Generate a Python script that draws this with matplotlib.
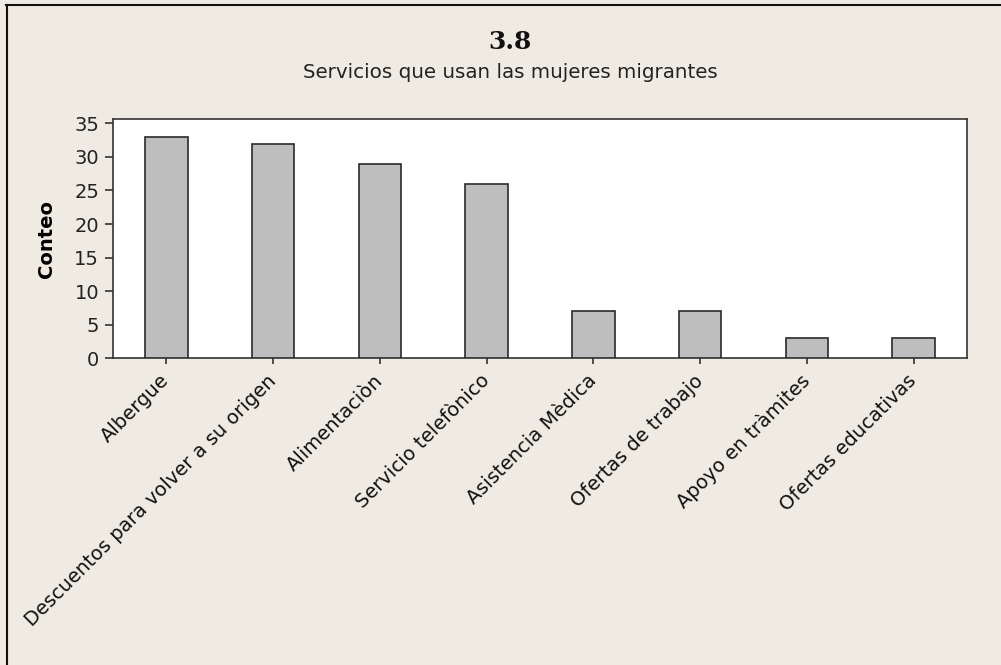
import matplotlib
matplotlib.use("Agg")
import matplotlib.pyplot as plt
from matplotlib.lines import Line2D

categories = ["Albergue", "Descuentos para volver a su origen", "Alimentaciòn",
              "Servicio telefònico", "Asistencia Mèdica", "Ofertas de trabajo",
              "Apoyo en tràmites", "Ofertas educativas"]
counts = [33, 32, 29, 26, 7, 7, 3, 3]
yticks = [0, 5, 10, 15, 20, 25, 30, 35]
title_num = "3.8"
title_text = "Servicios que usan las mujeres migrantes"
ylabel = "Conteo"

bg = "#EFEBE2"
fig = plt.figure(figsize=(10.01, 6.65), dpi=100, facecolor=bg)
ax = fig.add_axes([113/1001, 1-358.3/665, (967-113)/1001, (358.3-119)/665])
ax.set_facecolor("white")

x = list(range(len(categories)))
ax.bar(x, counts, width=0.4, color="#BEBEBE", edgecolor="#2a2a2a", linewidth=1.2, zorder=3)
ax.set_xlim(-0.5, len(categories) - 0.5)
ax.set_ylim(0, 35.65)
ax.set_yticks(yticks)
ax.set_yticklabels([str(v) for v in yticks], fontsize=14, color="#222222")
ax.set_xticks(x)
ax.set_xticklabels(categories, rotation=45, ha="right", va="center", rotation_mode="anchor",
                   fontsize=14, color="#111111")
ax.tick_params(axis="y", direction="out", length=6, width=1.2, pad=4, color="#333333")
ax.tick_params(axis="x", direction="out", length=4, width=1.2, pad=10, color="#333333")
for s in ax.spines.values():
    s.set_linewidth(1.2)
    s.set_color("#333333")
ax.set_ylabel(ylabel, fontsize=14, fontweight="bold", labelpad=13)

fig.text(510/1001, 1-42/665, title_num, ha="center", va="center", fontsize=18,
         fontweight="bold", family="DejaVu Serif", color="#111111")
fig.text(510/1001, 1-73/665, title_text, ha="center", va="center", fontsize=14.3,
         color="#222222")

# outer frame lines (top and left)
fig.add_artist(Line2D([6/1001, 1.0], [1-5/665, 1-5/665], transform=fig.transFigure,
                      color="#111111", linewidth=1.5))
fig.add_artist(Line2D([6.5/1001, 6.5/1001], [0, 1-5/665], transform=fig.transFigure,
                      color="#111111", linewidth=1.5))

fig.savefig("out.png", dpi=100, facecolor=bg)
